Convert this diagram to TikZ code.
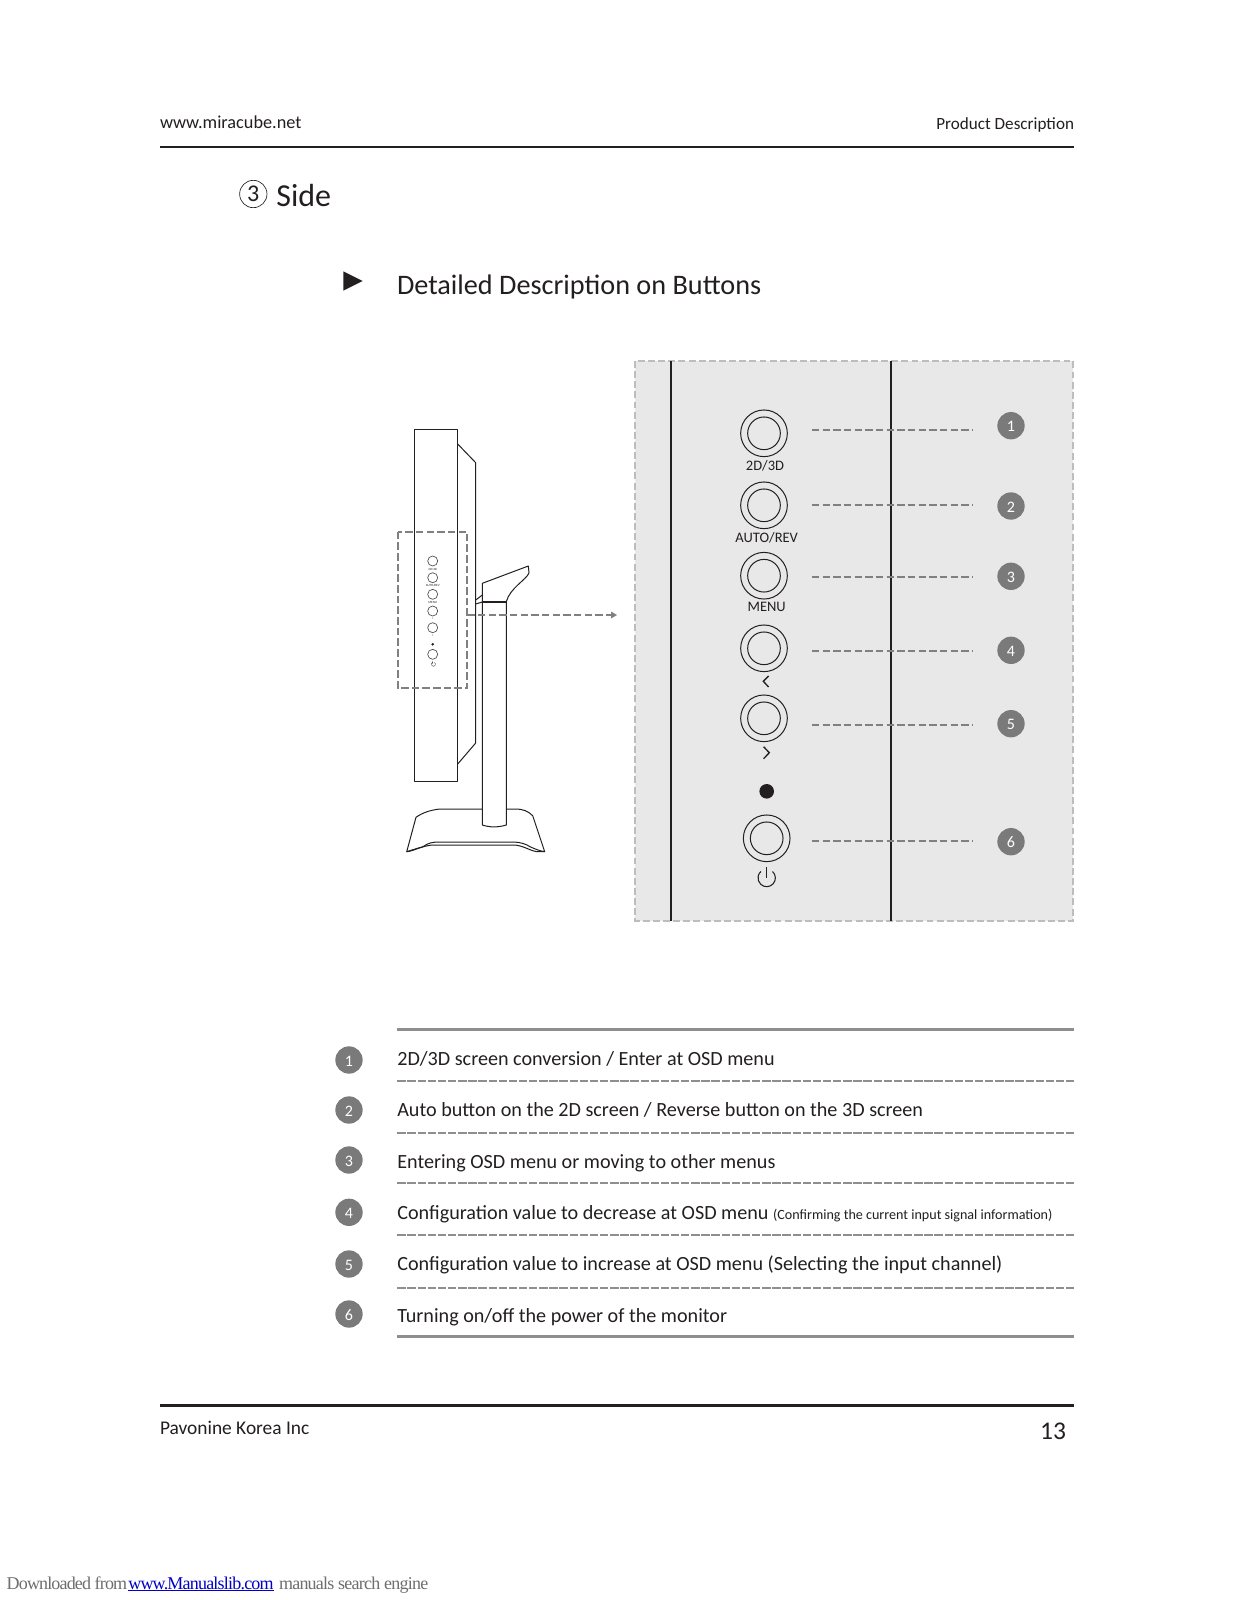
\documentclass[tikz,border=0pt]{standalone}
\usepackage{fontspec}
\setmainfont{Carlito}
\newfontfamily\wmfont{Liberation Serif}
\usetikzlibrary{arrows.meta}
\definecolor{panelgray}{HTML}{E8E8E8}
\definecolor{dashgray}{HTML}{808080}
\definecolor{rulegray}{HTML}{8E8E8E}
\definecolor{bordergray}{HTML}{BDBDBD}
\definecolor{badge}{HTML}{7A7A7A}
\definecolor{ink}{HTML}{231F20}
\definecolor{wmgray}{HTML}{6E6E6E}
\definecolor{linkblue}{HTML}{0000C8}
\newcommand{\fpx}[1]{\fontsize{\dimexpr#1pt*3/4\relax}{\dimexpr#1pt*9/10\relax}\selectfont}
\tikzset{
  x=0.75pt,y=-0.75pt,
  lbl/.style={inner sep=0pt,outer sep=0pt,text=ink},
  numbadge/.style={circle,fill=badge,draw=none,minimum size=20.5pt,inner sep=0pt,text=white,font=\fpx{16},text height=9.1pt,text depth=0pt},
  btnouter/.style={circle,draw=ink,line width=0.75pt,fill=none,minimum size=35pt,inner sep=0pt},
  btninner/.style={circle,draw=ink,line width=0.75pt,fill=none,minimum size=24.5pt,inner sep=0pt},
  minibtn/.style={circle,draw=ink!80,line width=0.5pt,minimum size=7.5pt,inner sep=0pt},
  leader/.style={draw=dashgray,line width=1.5pt,dash pattern=on 5.6pt off 2.4pt},
  rowrule/.style={draw=rulegray,line width=1.5pt,dash pattern=on 6.3pt off 1.3pt},
  solidrule/.style={draw=rulegray,line width=2pt},
  pagerule/.style={draw=ink,line width=1.6pt},
  mono/.style={draw=ink,line width=0.75pt,line join=round},
  rowtext/.style={lbl,anchor=base west,font=\fpx{20.15}},
  wmtext/.style={anchor=base west,inner sep=0pt,outer sep=0pt},
}
\begin{document}
\begin{tikzpicture}
\useasboundingbox[fill=white] (0,0) rectangle (1237,1600);
% header
\node[lbl,anchor=base west,font=\fpx{18.25}] (hl) at (160,128) {www.miracube.net};
\node[lbl,anchor=base east,font=\fpx{17.1}] (hr) at (1074,129.5) {Product Description};
\coordinate (htl) at (160,147); \coordinate (htr) at (1074,147);
\draw[pagerule] (htl) -- (htr);
\node[lbl,circle,draw=ink,line width=0.5pt,minimum size=20.5pt,font=\fpx{24}] (circ3) at (253.3,194) {3};
\node[lbl,anchor=base west,font=\fpx{32}] (side) at (276.4,206) {Side};
\fill[ink] (343.3,271.3) -- (362.7,281) -- (343.3,290.7) -- cycle;
\node[lbl,anchor=base west,font=\fpx{28.25}] (title) at (397,294) {Detailed Description on Buttons};
% monitor side view
\draw[mono] (414.3,429) rectangle (457.7,781);
\draw[mono] (457.7,444) -- (475.7,462.7) -- (475.7,743) -- (457.7,764);
\draw[mono] (475.7,600) -- (482.3,595);
\draw[mono] (475.7,604) -- (482.3,602);
\draw[mono] (482.3,825) -- (482.3,583.3) -- (528.3,566) -- (529,573) .. controls (526,580) and (510,588) .. (506.3,601.7) -- (506.3,825) .. controls (498,827.5) and (490,827.5) .. (482.3,825);
\draw[mono,line width=1.2pt] (482.3,601.7) -- (506.3,601.7);
\draw[mono] (482.3,809) -- (440,809) .. controls (430,810) and (422,813) .. (416,817.3) -- (406.7,851.7) .. controls (412,850) and (418,848) .. (423,846.7) .. controls (428,843) and (432,842) .. (440,842) -- (513,842) .. controls (520,842) and (526,844) .. (530,846.7) .. controls (535,849) and (540,851) .. (544.7,851.7) -- (532.7,815.7) .. controls (528,811) and (523,809) .. (515,809) -- (506.3,809);
\draw[mono] (406.7,851.7) .. controls (412,851.5) and (422,846) .. (432,845) -- (515,845) .. controls (524,846) and (531,851) .. (536.7,851.7) -- (544.7,851.7);
% mini buttons
\node[minibtn] (m1) at (432.7,561) {};
\node[minibtn] (m2) at (432.7,577.7) {};
\node[minibtn] (m3) at (432.7,594.3) {};
\node[minibtn] (m4) at (432.7,611) {};
\node[minibtn] (m5) at (432.7,627.7) {};
\node[minibtn] (m6) at (432.7,654.3) {};
\fill[ink] (432.7,644.3) circle (1.4);
\node[lbl,font=\fpx{3.2}] (t1) at (432.7,569.5) {2D/3D};
\node[lbl,font=\fpx{3.2}] (t2) at (432.7,585.5) {AUTO/REV};
\node[lbl,font=\fpx{3.2}] (t3) at (432.7,602.2) {MENU};
\node[lbl,font=\fpx{3.2}] (t4) at (432.7,618.5) {<};
\node[lbl,font=\fpx{3.2}] (t5) at (432.7,635.2) {>};
\draw[ink,line width=0.25pt] (434.4,662.5) arc[start angle=-60,end angle=240,radius=2] (432.7,661) -- (432.7,664);
% detail frame
\draw[leader] (397.7,531.7) rectangle (467.3,688.3);
\coordinate (as) at (467.3,615);
\coordinate (ae) at (611,615);
\draw[leader] (as) -- (ae);
\fill[dashgray] (611,611.5) -- (617,615) -- (611,618.5) -- cycle;
% panel
\fill[panelgray] (635,361) rectangle (1073.3,920.7);
\draw[draw=bordergray,line width=1.5pt,dash pattern=on 5.2pt off 2.4pt] (635,361) rectangle (1073.3,920.7);
\draw[draw=ink,line width=1.6pt] (671.3,361) -- (671.3,921);
\draw[draw=ink,line width=1.6pt] (891.3,361) -- (891.3,921);
% buttons
\foreach \n/\cx/\cy in {1/764/433.3,2/764/505.3,3/764/575.7,4/764/648.3,5/764/718.3,6/766.7/838.3}{
  \node[btnouter] (bo\n) at (\cx,\cy) {};
  \node[btninner] (bi\n) at (\cx,\cy) {};
}
\node[lbl,font=\fpx{14.5}] (l1) at (765,465.7) {2D/3D};
\node[lbl,font=\fpx{14.5}] (l2) at (766.7,537.3) {AUTO/REV};
\node[lbl,font=\fpx{14.5}] (l3) at (766.7,606.7) {MENU};
\draw[ink,line width=1pt] (768.6,676) -- (763.3,681.3) -- (768.6,687);
\draw[ink,line width=1pt] (763.6,746.7) -- (769.3,752.7) -- (763.6,758.7);
\fill[ink] (766.7,791.3) circle (7.3);
\draw[ink,line width=0.8pt] (772.5,871.5) arc[start angle=-48,end angle=228,radius=8.7];
\draw[ink,line width=0.8pt] (766.7,867.3) -- (766.7,877.5);
% leaders and badges
\foreach \n/\ly/\by in {1/429.7/425.7,2/505/506,3/577.3/576.3,4/651.3/650.3,5/724.7/723.7,6/840.7/841.7}{
  \coordinate (ls\n) at (812,\ly);
  \coordinate (le\n) at (973.3,\ly);
  \draw[leader] (ls\n) -- (le\n);
  \node[numbadge] (nb\n) at (1011,\by) {\n};
}
% list
\coordinate (rt1) at (397.3,1029.3); \coordinate (rt2) at (1074,1029.3);
\draw[solidrule] (rt1) -- (rt2);
\foreach \n/\cy in {1/1060,2/1110,3/1160,4/1212.3,5/1264,6/1314}{
  \node[numbadge] (lb\n) at (349,\cy) {\n};
}
\foreach \n/\ry in {1/1081,2/1132.7,3/1183,4/1235,5/1287.5}{
  \coordinate (ra\n) at (397.3,\ry); \coordinate (rb\n) at (1074,\ry);
  \draw[rowrule] (ra\n) -- (rb\n);
}
\coordinate (rb1x) at (397.3,1336.7); \coordinate (rb2x) at (1074,1336.7);
\draw[solidrule] (rb1x) -- (rb2x);
\node[rowtext] (r1) at (397.3,1065.5) {2D/3D screen conversion / Enter at OSD menu};
\node[rowtext] (r2) at (397.3,1116.5) {Auto button on the 2D screen / Reverse button on the 3D screen};
\node[rowtext] (r3) at (397.3,1168) {Entering OSD menu or moving to other menus};
\node[rowtext] (r4) at (397.3,1219) {Configuration value to decrease at OSD menu {\fpx{14.1}(Confirming the current input signal information)}};
\node[rowtext] (r5) at (397.3,1270) {Configuration value to increase at OSD menu (Selecting the input channel)};
\node[rowtext] (r6) at (397.3,1322.5) {Turning on/off the power of the monitor};
% footer
\coordinate (fl) at (160,1405.5); \coordinate (fr) at (1074,1405.5);
\draw[pagerule] (fl) -- (fr);
\node[lbl,anchor=base west,font=\fpx{19.4}] (fa) at (160,1434) {Pavonine Korea Inc};
\node[lbl,anchor=base east,font=\fpx{25.5}] (fb) at (1066,1439) {13};
% watermark
\node[wmtext,text=wmgray,font=\wmfont\fpx{18}\addfontfeature{LetterSpace=-4.7}] (wm1) at (6.7,1589) {Downloaded from};
\node[wmtext,text=linkblue,font=\wmfont\fpx{18}\addfontfeature{LetterSpace=-4.4}] (wm2) at (128.3,1589) {www.Manualslib.com};
\node[wmtext,text=wmgray,font=\wmfont\fpx{18}\addfontfeature{LetterSpace=-4.2}] (wm3) at (279,1589) {manuals search engine};
\draw[linkblue,line width=0.75pt] ([yshift=-1.3pt]wm2.base west) -- ([yshift=-1.3pt]wm2.base east);
\end{tikzpicture}
\end{document}
